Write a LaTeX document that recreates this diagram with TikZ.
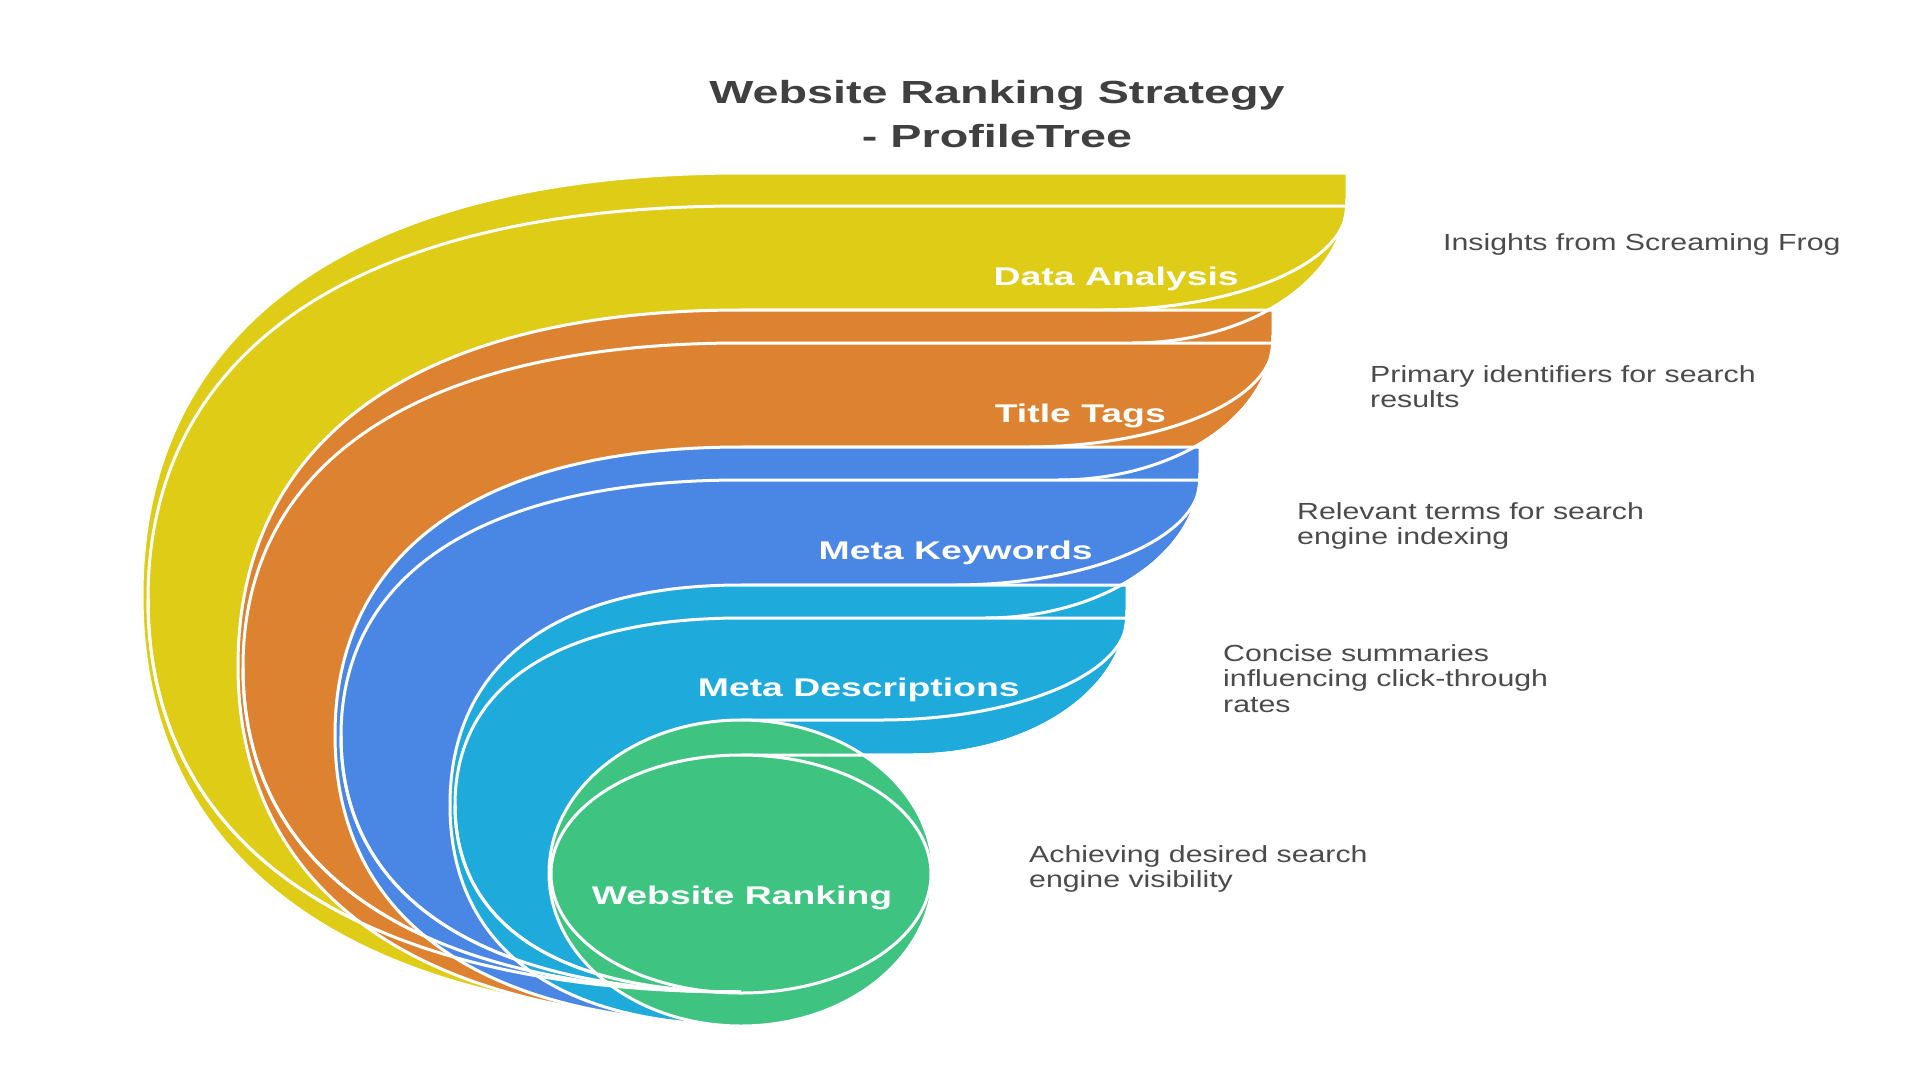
\documentclass[tikz,border=0pt]{standalone}
\usepackage{fontspec}
\setmainfont{Liberation Sans}
\usepackage{graphicx}
\definecolor{cY}{RGB}{222,204,22}
\definecolor{cO}{RGB}{221,130,48}
\definecolor{cB}{RGB}{74,135,228}
\definecolor{cC}{RGB}{30,170,218}
\definecolor{cG}{RGB}{62,196,128}
\definecolor{ttlgray}{RGB}{64,64,64}
\definecolor{descgray}{RGB}{75,75,75}
\begin{document}
\begin{tikzpicture}[x=1pt,y=-1pt,line join=round,
  layer/.style={draw=white,line width=3pt},
  wline/.style={draw=white,line width=3pt},
  lbl/.style={text=white,font=\bfseries\fontsize{25.6}{30}\selectfont,inner sep=0pt},
  desc/.style={text=descgray,font=\fontsize{23.3}{25.5}\selectfont,inner sep=0pt},
  ttl/.style={text=ttlgray,font=\bfseries\fontsize{32}{44}\selectfont,inner sep=0pt}]
\useasboundingbox (0,0) rectangle (1920,1080);
\fill[white] (0,0) rectangle (1920,1080);

% ---- yellow layer
\path[layer,fill=cY] (741,343) -- (741,1018) .. controls (357.6,1018) and (142,865.9) .. (142,595.5) .. controls (142,325.1) and (357.6,173) .. (741,173) -- (1347,173) -- (1347,198) .. controls (1347,278.1) and (1250.7,343) .. (1132,343) -- cycle;
\path[layer,fill=cY] (741,310) -- (741,992) .. controls (361.5,992) and (148,850.5) .. (148,599) .. controls (148,347.5) and (361.5,206) .. (741,206) -- (1347,206) .. controls (1347,263.4) and (1236.4,310) .. (1100,310) -- cycle;

% ---- orange layer
\path[layer,fill=cO] (741,480) -- (741,1021) .. controls (419.1,1021) and (238,893) .. (238,665.5) .. controls (238,438) and (419.1,310) .. (741,310) -- (1273,310) -- (1273,335) .. controls (1273,415.1) and (1176.7,480) .. (1058,480) -- cycle;
\draw[wline] (1347,198) .. controls (1347,278.1) and (1250.7,343) .. (1132,343);
\path[layer,fill=cO] (741,447) -- (741,992) .. controls (422.3,992) and (243,875.2) .. (243,667.5) .. controls (243,459.8) and (422.3,343) .. (741,343) -- (1273,343) .. controls (1273,400.4) and (1162.4,447) .. (1026,447) -- cycle;

% ---- blue layer
\path[layer,fill=cB] (741,618) -- (741,1023) .. controls (481.2,1023) and (335,919.3) .. (335,735) .. controls (335,550.7) and (481.2,447) .. (741,447) -- (1200,447) -- (1200,473) .. controls (1200,553.1) and (1103.7,618) .. (985,618) -- cycle;
\draw[wline] (1273,335) .. controls (1273,415.1) and (1176.7,480) .. (1058,480);
\path[layer,fill=cB] (741,585) -- (741,992) .. controls (485,992) and (341,899.8) .. (341,736) .. controls (341,572.2) and (485,480) .. (741,480) -- (1200,480) .. controls (1200,538) and (1089.4,585) .. (953,585) -- cycle;

% ---- cyan layer
\path[layer,fill=cC] (741,755) -- (741,1025) .. controls (554.8,1025) and (450,945.8) .. (450,805) .. controls (450,664.2) and (554.8,585) .. (741,585) -- (1127,585) -- (1127,610) .. controls (1127,690.1) and (1030.7,755) .. (912,755) -- cycle;
\draw[wline] (1200,473) .. controls (1200,553.1) and (1103.7,618) .. (985,618);
\path[layer,fill=cC] (741,720) -- (741,992) .. controls (558,992) and (455,924.7) .. (455,805) .. controls (455,685.3) and (558,618) .. (741,618) -- (1127,618) .. controls (1127,674.3) and (1016.4,720) .. (880,720) -- cycle;

% ---- green layer
\path[layer,fill=cG] (741,873) ellipse [x radius=192,y radius=153];
\draw[wline] (1127,610) .. controls (1127,690.1) and (1030.7,755) .. (912,755) -- (741,755);
\path[layer,fill=cG] (741,874) ellipse [x radius=190,y radius=119];

% ---- front outlines crossing near the bottom
\draw[wline] (148,599) .. controls (148,850.5) and (361.5,992) .. (741,992);
\draw[wline] (243,667.5) .. controls (243,875.2) and (422.3,992) .. (741,992);
\draw[wline] (341,736) .. controls (341,899.8) and (485,992) .. (741,992);
\draw[wline] (455,805) .. controls (455,924.7) and (558,992) .. (741,992);

% ---- labels
\node[lbl,anchor=base east] (lda) at (1239,285) {\scalebox{1.46}[1]{Data Analysis}};
\node[lbl,anchor=base east] (ltt) at (1166,422) {\scalebox{1.46}[1]{Title Tags}};
\node[lbl,anchor=base east] (lmk) at (1093,559) {\scalebox{1.46}[1]{Meta Keywords}};
\node[lbl,anchor=base east] (lmd) at (1020,696) {\scalebox{1.46}[1]{Meta Descriptions}};
\node[lbl,anchor=base] (lwr) at (742,904) {\scalebox{1.46}[1]{Website Ranking}};

% ---- title
\node[ttl,anchor=base] (title) at (997,103) {\scalebox{1.46}[1]{\begin{tabular}[t]{@{}c@{}}Website Ranking Strategy\\- ProfileTree\end{tabular}}};

% ---- descriptions
\node[desc,anchor=base west] (d1) at (1443,250) {\scalebox{1.3}[1]{\begin{tabular}[t]{@{}l@{}}Insights from Screaming Frog\end{tabular}}};
\node[desc,anchor=base west] (d2) at (1370,382) {\scalebox{1.3}[1]{\begin{tabular}[t]{@{}l@{}}Primary identifiers for search\\results\end{tabular}}};
\node[desc,anchor=base west] (d3) at (1297,519) {\scalebox{1.3}[1]{\begin{tabular}[t]{@{}l@{}}Relevant terms for search\\engine indexing\end{tabular}}};
\node[desc,anchor=base west] (d4) at (1223,661) {\scalebox{1.3}[1]{\begin{tabular}[t]{@{}l@{}}Concise summaries\\influencing click-through\\rates\end{tabular}}};
\node[desc,anchor=base west] (d5) at (1029,862) {\scalebox{1.3}[1]{\begin{tabular}[t]{@{}l@{}}Achieving desired search\\engine visibility\end{tabular}}};
\end{tikzpicture}
\end{document}
